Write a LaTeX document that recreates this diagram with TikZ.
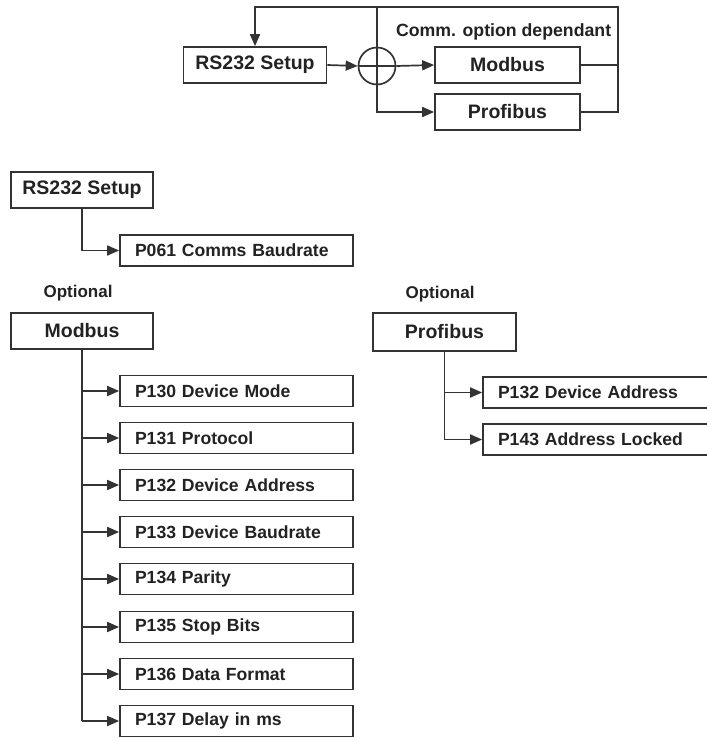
\documentclass[tikz,border=0pt]{standalone}
\usepackage{fontspec}
\setmainfont{Liberation Sans}
\usetikzlibrary{arrows.meta}
\definecolor{ink}{HTML}{333333}
\definecolor{txt}{HTML}{222222}
\begin{document}
\begin{tikzpicture}[x=1pt,y=-1pt,
  line width=1.7pt, draw=ink, text=txt,
  arr/.style={-{Triangle[length=12pt,width=10pt,fill=ink]}, draw=ink},
  bigbox/.style={draw=ink, line width=1.7pt, rectangle, minimum width=143pt, minimum height=36pt, inner sep=0pt, font=\bfseries\fontsize{19.5}{21}\selectfont},
  leafbox/.style={draw=ink, line width=1.7pt, rectangle, minimum height=31pt, inner xsep=15pt, inner ysep=0pt, text width=203pt, align=left, font=\bfseries\fontsize{17.6}{19}\selectfont},
  rleaf/.style={leafbox, text width=210pt},
  lbl/.style={font=\bfseries\fontsize{17}{19}\selectfont, inner sep=0pt},
]
\useasboundingbox (0,0) rectangle (706,738);
\fill[white] (0,0) rectangle (706,738);

% ---------- top overview ----------
\node[bigbox] (rs) at (255,65) {RS232 Setup};
\node[bigbox, minimum width=145pt] (mbt) at (507.5,65) {Modbus};
\node[bigbox, minimum width=145pt] (pft) at (507.5,112) {Profibus};
\node[draw=ink, line width=1.7pt, circle, minimum size=37pt, inner sep=0pt] (circ) at (377,66) {};
\node[lbl, font=\bfseries\fontsize{17.7}{19}\selectfont, anchor=east] (cod) at (612,32) {Comm. option dependant};
\coordinate (tr) at (618,7);
\coordinate (tm) at (377,7);

\draw[arr] (rs.east) -- (circ.west);
\draw (circ.west) -- (circ.east);
\draw[arr] (circ.east) -- (mbt.west);
\draw[arr] (tm) -- (circ.center) |- (pft.west);
\draw (mbt.east) -- (mbt.east -| tr);
\draw[arr] (pft.east) -| (tr) -| (rs.north);

% ---------- RS232 tree ----------
\node[bigbox, minimum width=142pt] (rs2) at (82,190) {RS232 Setup};
\node[leafbox] (p061) at (236.5,250.5) {P061 Comms Baudrate};
\draw[arr] (rs2.south) |- (p061.west);

% ---------- Modbus tree ----------
\node[lbl] (opt1) at (78,293) {Optional};
\node[bigbox, minimum width=142pt] (mb) at (82,331) {Modbus};
\node[leafbox] (p130) at (236.5,391) {P130 Device Mode};
\node[leafbox] (p131) at (236.5,438) {P131 Protocol};
\node[leafbox] (p132) at (236.5,485) {P132 Device Address};
\node[leafbox] (p133) at (236.5,532) {P133 Device Baudrate};
\node[leafbox] (p134) at (236.5,579) {P134 Parity};
\node[leafbox] (p135) at (236.5,627) {P135 Stop Bits};
\node[leafbox] (p136) at (236.5,674) {P136 Data Format};
\node[leafbox] (p137) at (236.5,721) {P137 Delay in ms};
\draw (mb.south) -- (mb.south |- p137.west);
\foreach \n in {p130,p131,p132,p133,p134,p135,p136,p137}
  \draw[arr] (mb.south |- \n.west) -- (\n.west);

% ---------- Profibus tree ----------
\node[lbl] (opt2) at (440,294) {Optional};
\node[bigbox, minimum height=38pt] (pb) at (444.5,332) {Profibus};
\node[rleaf] (q132) at (603,392.5) {P132 Device Address};
\node[rleaf] (q143) at (603,439.5) {P143 Address Locked};
\draw (pb.south) -- (pb.south |- q143.west);
\foreach \n in {q132,q143}
  \draw[arr] (pb.south |- \n.west) -- (\n.west);
\end{tikzpicture}
\end{document}
